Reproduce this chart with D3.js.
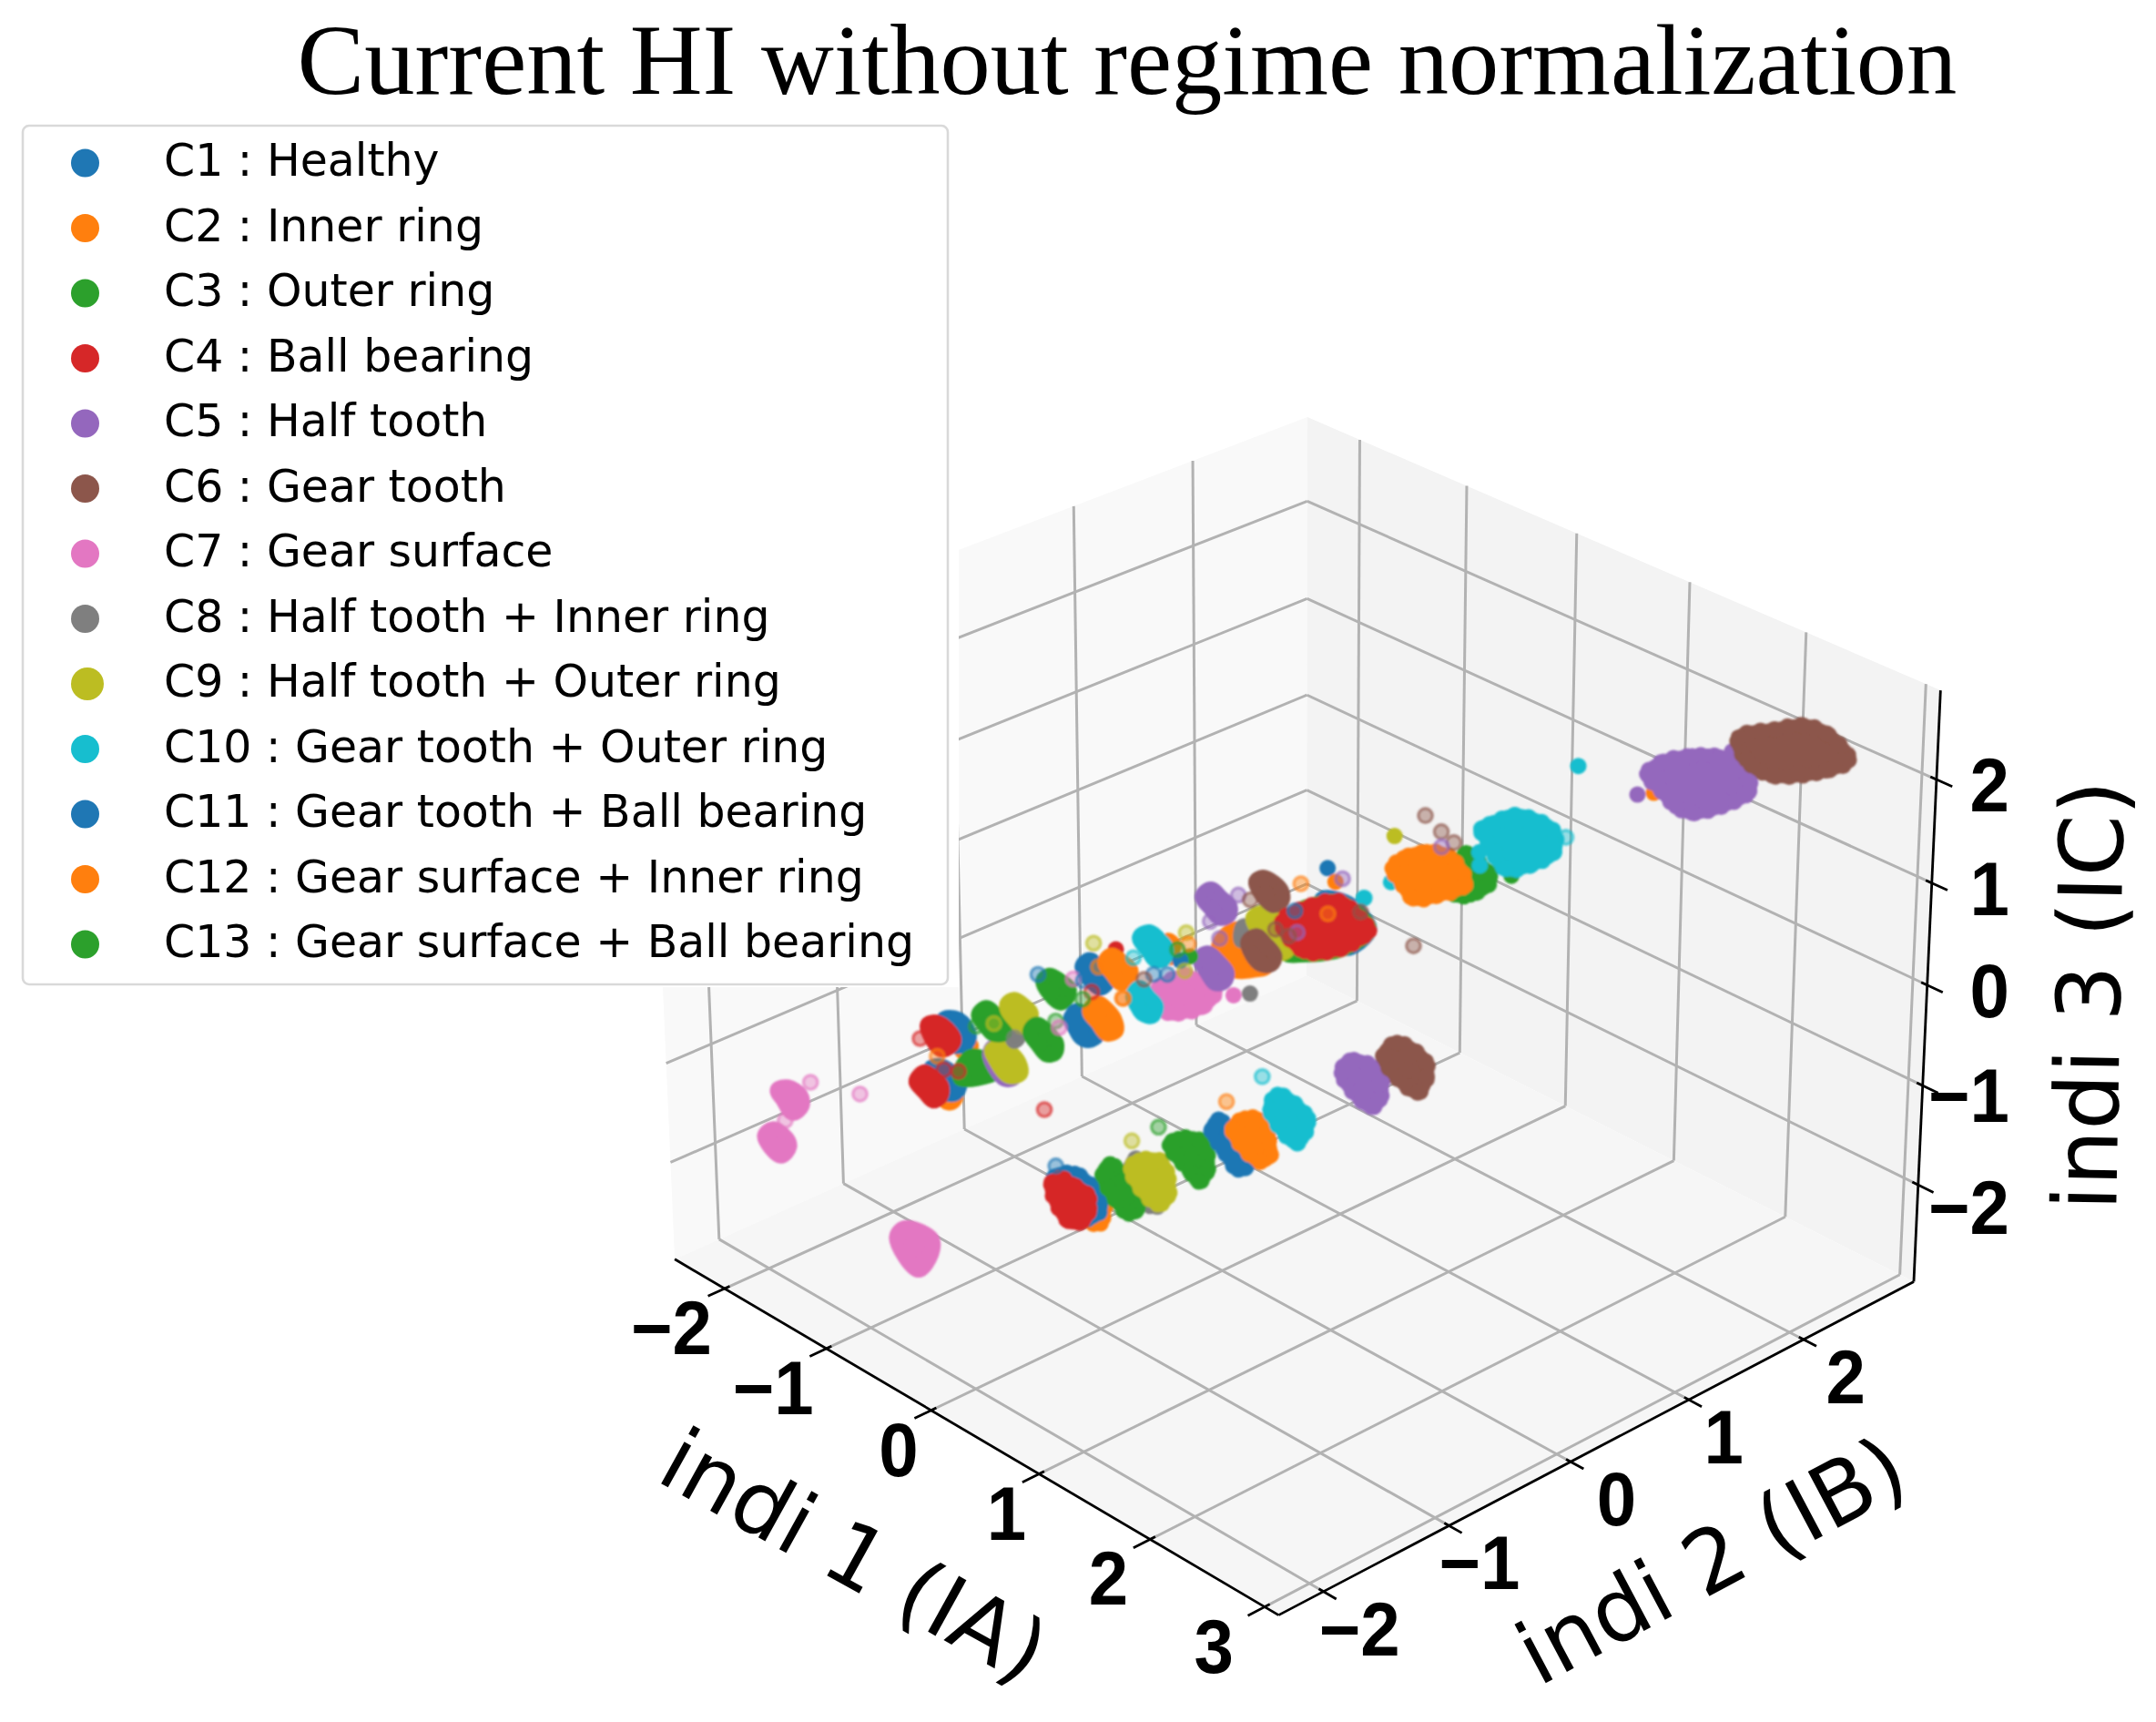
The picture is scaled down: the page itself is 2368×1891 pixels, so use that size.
<!DOCTYPE html><html><head><meta charset="utf-8"><style>html,body{margin:0;background:#fff}</style></head><body><div id="c"></div>
<script src="https://cdn.jsdelivr.net/npm/d3@7"></script>
<script>
const classNames=["C1 : Healthy","C2 : Inner ring","C3 : Outer ring","C4 : Ball bearing","C5 : Half tooth","C6 : Gear tooth","C7 : Gear surface","C8 : Half tooth + Inner ring","C9 : Half tooth + Outer ring","C10 : Gear tooth + Outer ring","C11 : Gear tooth + Ball bearing","C12 : Gear surface + Inner ring","C13 : Gear surface + Ball bearing"];
const classColors=["#1f77b4","#ff7f0e","#2ca02c","#d62728","#9467bd","#8c564b","#e377c2","#7f7f7f","#bcbd22","#17becf","#1f77b4","#ff7f0e","#2ca02c"];
const limitsIndi1=[-2.5,3.12], limitsIndi2=[-2.35,2.99], limitsIndi3=[-2.99,2.85];
const titleText="Current HI without regime normalization";
const axisLabels=["indi 1 (IA)","indi 2 (IB)","indi 3 (IC)"];
// class, indi 3 level and the (indi 1, indi 2) outline of each dense cluster, back to front
const blobClass=[6,6,6,1,0,3,1,0,3,2,4,8,7,2,8,2,2,0,1,0,1,6,9,1,9,1,4,7,4,0,2,8,5,3,5,1,0,3,7,2,8,2,0,1,9,4,5,2,1,9,4,5];
const blobIndi3=[-1.7,-1.7,-2.2,-1,-1.1,-1.1,-1.1,-1.1,-1.2,-1,-0.9,-0.9,-0.8,-0.9,-0.8,-0.7,-0.7,-0.6,-0.5,-0.6,-0.5,-0.2,-0.4,-0.3,-0.3,0,-0.1,0,-0.1,0.4,0.3,0.1,0.1,0.3,0.1,-1.7,-1.8,-1.8,-1.6,-1.7,-1.6,-1.5,-1.4,-1.4,-1.3,-1.1,-1,0.8,0.6,1,1.6,2];
const blobOutline=[
[[-2.45,-1.53],[-2.43,-1.47],[-2.30,-1.48],[-2.20,-1.55],[-2.17,-1.64],[-2.33,-1.58]],
[[-2.05,-1.95],[-2.08,-1.87],[-1.94,-1.88],[-1.85,-1.93],[-1.80,-2.03],[-1.92,-1.99]],
[[-0.99,-1.78],[-1.04,-1.68],[-0.83,-1.65],[-0.70,-1.76],[-0.61,-1.93],[-0.82,-1.83]],
[[-1.38,-0.87],[-1.36,-0.87],[-1.35,-0.89],[-1.35,-0.94]],
[[-1.83,-0.69],[-1.78,-0.63],[-1.64,-0.67],[-1.53,-0.75],[-1.51,-0.82],[-1.57,-0.85]],
[[-1.85,-0.80],[-1.83,-0.75],[-1.72,-0.76],[-1.60,-0.81],[-1.55,-0.88],[-1.56,-0.94],[-1.69,-0.88],[-1.78,-0.85]],
[[-1.02,-1.28],[-1.00,-1.32],[-1.00,-1.33],[-1.02,-1.34]],
[[-1.40,-1.15],[-1.38,-1.09],[-1.23,-1.13],[-1.15,-1.14],[-1.07,-1.24],[-1.13,-1.28],[-1.24,-1.27]],
[[-1.46,-1.21],[-1.49,-1.13],[-1.40,-1.14],[-1.29,-1.17],[-1.20,-1.25],[-1.19,-1.31],[-1.30,-1.28],[-1.43,-1.24]],
[[-1.22,-1.02],[-1.24,-0.95],[-1.10,-1.00],[-1.00,-0.97],[-1.03,-0.92],[-1.09,-0.95],[-1.14,-1.07],[-1.09,-1.17]],
[[-1.09,-0.93],[-1.14,-0.86],[-0.78,-1.01],[-0.80,-1.06],[-0.94,-0.99]],
[[-1.12,-0.89],[-1.11,-0.83],[-1.00,-0.84],[-0.89,-0.88],[-0.79,-0.95],[-0.81,-1.02],[-0.93,-0.97],[-1.05,-0.93]],
[[-1.09,-0.75],[-1.04,-0.76],[-1.03,-0.78],[-1.03,-0.79]],
[[-1.53,-0.65],[-1.56,-0.57],[-1.45,-0.59],[-1.31,-0.64],[-1.25,-0.70],[-1.29,-0.74],[-1.39,-0.71]],
[[-1.41,-0.52],[-1.42,-0.46],[-1.31,-0.47],[-1.22,-0.50],[-1.18,-0.57],[-1.13,-0.64],[-1.23,-0.61],[-1.34,-0.57]],
[[-0.94,-0.73],[-0.98,-0.65],[-0.86,-0.67],[-0.72,-0.72],[-0.64,-0.80],[-0.66,-0.84],[-0.78,-0.80]],
[[-1.38,-0.25],[-1.41,-0.18],[-1.32,-0.18],[-1.21,-0.20],[-1.13,-0.28],[-1.11,-0.35],[-1.24,-0.30]],
[[-0.79,-0.53],[-0.84,-0.44],[-0.75,-0.46],[-0.54,-0.54],[-0.52,-0.62],[-0.58,-0.63],[-0.69,-0.58]],
[[-0.69,-0.46],[-0.73,-0.37],[-0.61,-0.39],[-0.51,-0.43],[-0.40,-0.51],[-0.41,-0.57],[-0.54,-0.52]],
[[-1.26,-0.03],[-1.29,0.05],[-1.15,0.01],[-1.02,-0.04],[-0.98,-0.13],[-1.06,-0.12],[-1.16,-0.08]],
[[-1.10,0.02],[-1.14,0.10],[-1.03,0.09],[-0.92,0.06],[-0.85,-0.02],[-0.84,-0.08],[-0.96,-0.04]],
[[-0.32,-0.23],[-0.33,0.01],[-0.23,0.01],[-0.05,-0.01],[0.04,-0.19],[-0.00,-0.34],[-0.05,-0.39],[-0.23,-0.30]],
[[-0.55,-0.23],[-0.60,-0.14],[-0.47,-0.18],[-0.36,-0.22],[-0.29,-0.31],[-0.35,-0.33],[-0.44,-0.29]],
[[-0.84,0.31],[-0.79,0.30],[-0.72,0.23],[-0.68,0.19]],
[[-1.00,0.22],[-1.01,0.30],[-0.90,0.28],[-0.79,0.24],[-0.70,0.15],[-0.72,0.10],[-0.84,0.15]],
[[-0.27,0.23],[-0.36,0.39],[-0.35,0.46],[0.11,0.27],[0.10,0.20],[0.04,0.11],[-0.05,0.08]],
[[-0.33,0.13],[-0.35,0.20],[-0.22,0.17],[-0.09,0.12],[-0.02,0.04],[-0.04,-0.01],[-0.16,0.04]],
[[-0.29,0.43],[-0.36,0.51],[-0.33,0.50],[-0.24,0.39]],
[[-0.94,0.69],[-0.97,0.78],[-0.85,0.75],[-0.72,0.71],[-0.65,0.64],[-0.66,0.58],[-0.78,0.62]],
[[0.11,0.74],[0.26,0.81],[0.59,0.68],[0.66,0.42]],
[[0.05,0.51],[0.06,0.83],[0.14,0.88],[0.49,0.77],[0.56,0.49],[0.44,0.26],[0.36,0.21]],
[[-0.30,0.54],[-0.31,0.63],[-0.20,0.67],[0.09,0.49],[0.15,0.37],[-0.09,0.51]],
[[-0.65,0.88],[-0.66,0.94],[-0.56,0.94],[-0.45,0.90],[-0.36,0.82],[-0.36,0.75],[-0.50,0.82]],
[[0.05,0.46],[0.02,0.72],[0.10,0.89],[0.20,0.86],[0.35,0.83],[0.51,0.76],[0.54,0.66],[0.56,0.49],[0.43,0.30],[0.26,0.41]],
[[-0.09,0.31],[-0.11,0.39],[0.00,0.36],[0.15,0.30],[0.21,0.22],[0.17,0.18],[0.05,0.22]],
[[0.07,-1.01],[0.17,-1.12],[0.21,-1.17],[0.18,-1.20]],
[[-0.51,-0.92],[-0.45,-0.81],[-0.28,-0.83],[-0.14,-0.87],[0.01,-1.01],[0.01,-1.12],[-0.27,-1.04]],
[[-0.45,-1.00],[-0.48,-0.91],[-0.36,-0.91],[-0.21,-0.92],[-0.07,-1.02],[0.02,-1.15],[-0.04,-1.21],[-0.31,-1.07]],
[[-0.08,-0.68],[-0.14,-0.58],[0.39,-0.87],[0.33,-0.89]],
[[-0.23,-0.77],[-0.29,-0.66],[-0.09,-0.73],[0.13,-0.79],[0.23,-0.89],[0.24,-0.97],[0.02,-0.86]],
[[-0.07,-0.68],[-0.11,-0.58],[-0.02,-0.49],[0.11,-0.55],[0.34,-0.74],[0.37,-0.85],[0.20,-0.76]],
[[-0.03,-0.40],[-0.05,-0.31],[0.05,-0.23],[0.20,-0.30],[0.38,-0.46],[0.43,-0.57],[0.29,-0.52],[0.18,-0.41]],
[[0.10,-0.17],[0.04,-0.06],[0.30,-0.18],[0.57,-0.29],[0.58,-0.38],[0.41,-0.31],[0.33,-0.28]],
[[0.18,-0.07],[0.14,0.07],[0.24,0.13],[0.40,0.02],[0.59,-0.13],[0.60,-0.22],[0.39,-0.09]],
[[0.26,0.17],[0.15,0.33],[0.44,0.29],[0.54,0.23],[0.68,0.01],[0.54,0.07],[0.41,0.13]],
[[0.41,0.63],[0.33,0.77],[0.55,0.81],[0.68,0.69],[0.82,0.57],[0.85,0.47],[0.65,0.56]],
[[0.53,0.87],[0.46,1.05],[0.76,1.01],[0.90,0.89],[1.01,0.71],[0.76,0.86]],
[[0.71,1.33],[0.67,1.42],[0.99,1.32],[1.06,1.24],[1.08,1.07],[1.01,1.00]],
[[0.30,1.15],[0.25,1.29],[0.29,1.45],[0.42,1.51],[0.76,1.33],[0.75,1.09],[0.68,0.97],[0.48,1.06]],
[[0.69,1.53],[0.69,1.64],[0.70,1.80],[0.88,1.77],[1.01,1.83],[1.22,1.64],[1.25,1.42],[1.18,1.27],[0.97,1.38],[0.84,1.44]],
[[1.46,2.19],[1.41,2.38],[1.48,2.56],[1.61,2.67],[1.93,2.59],[2.06,2.47],[2.03,2.27],[2.02,2.02],[1.89,2.01],[1.67,2.10]],
[[1.89,2.54],[1.97,2.78],[2.05,2.94],[2.23,2.96],[2.57,2.80],[2.57,2.60],[2.47,2.46],[2.39,2.32],[2.13,2.36]]];
// stray samples: class, indi 1, indi 2, indi 3
const strayBehind=[[3,-1.19,0.18,-0.5],[1,1.57,2.14,1.5],[2,1.27,1.23,1],[9,0.33,1.11,0.5],[4,1.80,2.58,1.8]];
const strayPale=[[6,-2.29,-1.40,-1.6],[6,-2.12,-1.74,-1.7],[6,-1.76,-1.43,-1.4],[3,-1.85,-0.87,-1.2],[1,-1.50,-1.02,-1.1],[2,-1.53,-0.68,-1],[8,-1.38,-0.66,-0.9],[3,-1.34,-1.10,-1.1],[3,-1.26,-1.05,-1.1],[7,-1.05,-0.77,-0.8],[2,-0.94,-0.53,-0.7],[6,-0.86,-0.57,-0.7],[0,-1.58,-0.13,-0.8],[6,-1.18,-0.18,-0.6],[0,-1.12,-0.15,-0.6],[3,-0.97,-0.21,-0.6],[2,-0.94,-0.31,-0.6],[1,-0.68,-0.21,-0.5],[1,-1.09,-0.05,-0.5],[8,-1.45,0.22,-0.6],[9,-0.93,0.10,-0.4],[3,-1.29,-0.34,-1.9],[8,-0.42,-0.37,-1.7],[0,-0.70,-0.75,-1.9],[1,-0.34,0.97,0.2],[4,-0.11,1.11,0.3],[9,0.27,0.94,0.4],[1,0.17,0.73,0.3],[0,-0.10,0.70,0.2],[4,0.12,0.52,0.2],[5,-0.10,0.54,0.1],[5,0.12,0.45,0.2],[5,0.39,0.80,0.4],[4,-0.70,0.77,0],[5,-0.60,0.78,0],[4,-0.66,0.50,-0.1],[4,-0.45,0.39,-0.1],[8,-0.75,0.38,-0.2],[1,-0.63,0.29,-0.2],[2,-0.72,0.28,-0.3],[8,-0.38,0.04,-0.2],[0,-0.52,0.02,-0.3],[0,-0.58,-0.04,-0.3],[5,-0.67,-0.04,-0.4],[1,-0.67,-0.21,-0.5],[2,-0.34,-0.22,-1.6],[1,-0.10,0.13,-1.4],[9,-0.18,0.50,-1.4],[5,0.02,1.69,0.7],[5,0.25,1.61,0.7],[5,0.51,1.47,0.8],[4,0.40,1.47,0.7],[5,1.13,0.55,0.6],[9,1.33,1.63,1.2]];
const straySolid=[[0,-0.28,1.14,0.3],[1,-0.11,1.05,0.3],[2,-0.50,0.19,-0.2],[0,-0.50,0.11,-0.2],[6,0.16,-0.04,-0.1],[7,0.31,-0.04,0],[8,-0.11,1.55,0.5],[9,0.27,0.94,0.4],[9,0.69,2.36,1.2],[4,1.42,2.15,1.4],[9,0.81,1.40,0.9],[9,0.94,1.28,0.9],[1,0.97,1.13,0.8]];

const W=2368,H=1891;
// camera matrix of the 3D view
const cam=[[100.5409,154.0094,-10.08468,1340.983],[45.68795,-43.88494,-118.8964,1069.623],[-0.0143398,0.01471833,-0.007140062,1]];
const project=(a,b,c)=>{const w=cam[2][0]*a+cam[2][1]*b+cam[2][2]*c+1;
  return[(cam[0][0]*a+cam[0][1]*b+cam[0][2]*c+cam[0][3])/w,(cam[1][0]*a+cam[1][1]*b+cam[1][2]*c+cam[1][3])/w];};
const colour=d3.scaleOrdinal(d3.range(13),classColors);
const [xn,xm]=limitsIndi1,[yn,ym]=limitsIndi2,[zn,zm]=limitsIndi3;
const xTicks=d3.scaleLinear().domain(limitsIndi1).ticks(5),yTicks=d3.scaleLinear().domain(limitsIndi2).ticks(5),zTicks=d3.scaleLinear().domain(limitsIndi3).ticks(5);
const svg=d3.select("#c").append("svg").attr("width",W).attr("height",H).style("display","block").style("background","#fff");
const line=d3.line();
const round=d3.line().curve(d3.curveCatmullRomClosed.alpha(0.5));
const defs=svg.append("defs");
defs.append("filter").attr("id","soft").attr("x","-5%").attr("y","-5%").attr("width","110%").attr("height","110%").append("feGaussianBlur").attr("stdDeviation",0.9);
// panes
const pane=(pts,fill)=>svg.append("path").attr("d",line(pts.map(p=>project(...p)))+"Z").attr("fill",fill);
pane([[xn,yn,zn],[xn,ym,zn],[xn,ym,zm],[xn,yn,zm]],"#f9f9f9");
pane([[xn,ym,zn],[xm,ym,zn],[xm,ym,zm],[xn,ym,zm]],"#f3f3f3");
pane([[xn,yn,zn],[xm,yn,zn],[xm,ym,zn],[xn,ym,zn]],"#f6f6f6");
// grid
const grid=svg.append("g").attr("fill","none").attr("stroke","#b2b2b2").attr("stroke-width",3);
const seg=(g,a,b)=>g.append("path").attr("d",line([project(...a),project(...b)]));
xTicks.forEach(t=>{seg(grid,[t,yn,zn],[t,ym,zn]);seg(grid,[t,ym,zn],[t,ym,zm]);});
yTicks.forEach(t=>{seg(grid,[xn,t,zn],[xm,t,zn]);seg(grid,[xn,t,zn],[xn,t,zm]);});
zTicks.forEach(t=>{seg(grid,[xn,yn,t],[xn,ym,t]);seg(grid,[xn,ym,t],[xm,ym,t]);});
// axes and ticks
const ax=svg.append("g").attr("fill","none").attr("stroke","#000").attr("stroke-width",2.8);
seg(ax,[xn,yn,zn],[xm,yn,zn]);seg(ax,[xm,yn,zn],[xm,ym,zn]);seg(ax,[xm,ym,zn],[xm,ym,zm]);
xTicks.forEach(t=>seg(ax,[t,yn-0.13,zn],[t,yn+0.04,zn]));
yTicks.forEach(t=>seg(ax,[xm+0.11,t,zn],[xm-0.04,t,zn]));
zTicks.forEach(t=>seg(ax,[xm-0.05,ym,t],[xm+0.13,ym,t]));
// data
const plot=svg.append("g").attr("filter","url(#soft)");
const dot=(g,d,op,ring)=>{const q=project(d[1],d[2],d[3]);const c=colour(d[0]);
  g.append("circle").attr("cx",q[0]).attr("cy",q[1]).attr("r",ring?7.8:9).attr("fill",c).attr("fill-opacity",op).attr("stroke",c).attr("stroke-opacity",ring?0.62:1).attr("stroke-width",ring?3.4:0);};
strayBehind.forEach(d=>dot(plot,d,1,false));
blobOutline.forEach((o,i)=>{
  const pts=o.map(p=>project(p[0],p[1],blobIndi3[i]));
  const hull=d3.polygonHull(pts)||pts;const c=colour(blobClass[i]);
  const grainy=i>=35||i==33||i==21;
  plot.append("path").attr("d",round(hull)).attr("fill",c).attr("stroke",c).attr("stroke-width",grainy?15:19).attr("stroke-linejoin","round");
  if(grainy)plot.append("path").attr("d",round(hull)).attr("fill","none").attr("stroke",c).attr("stroke-width",19).attr("stroke-linecap","round").attr("stroke-dasharray","0 15");
  pts.forEach(q=>plot.append("circle").attr("cx",q[0]).attr("cy",q[1]).attr("r",9).attr("fill",c));
});
straySolid.forEach(d=>dot(plot,d,1,false));
strayPale.forEach(d=>dot(plot,d,0.42,true));
// white block behind the legend hides the left of the pane
svg.append("rect").attr("x",0).attr("y",0).attr("width",1053).attr("height",1084).attr("fill","#fff");
// legend
svg.append("rect").attr("x",25).attr("y",138).attr("width",1016).attr("height",943).attr("rx",7).attr("fill","#fff").attr("stroke","#d9d9d9").attr("stroke-width",2.6);
const legendRow=d3.scaleLinear().domain([0,12]).range([176,1034]);
classNames.forEach((n,i)=>{
  svg.append("circle").attr("cx",i==8?96:93.5).attr("cy",legendRow(i)+3).attr("r",i==8?18:15.5).attr("fill",classColors[i]);
  svg.append("text").attr("x",180).attr("y",legendRow(i)+17).attr("font-family","DejaVu Sans").attr("font-size",48.95).attr("fill","#000").text(n);
});
// tick labels
const tl=(t,x,y)=>svg.append("text").attr("transform",`translate(${x},${y}) scale(1,1.06)`).attr("text-anchor","end").attr("font-family","Liberation Sans").attr("font-weight","bold").attr("font-size",78).attr("fill","#000").text(String(t).replace("-","\u2212"));
xTicks.forEach(t=>{const q=project(t,yn,zn);tl(t,q[0]-14-10*Math.max(0,t-1),q[1]+72);});
yTicks.forEach(t=>{const q=project(xm,t,zn);tl(t,q[0]+72-6*t+(t==1?-6:t==2?8:0),q[1]+70);});
zTicks.forEach(t=>{const q=project(xm,ym,t);tl(t,2207,q[1]+(t==-2?54:t==-1?40:35));});
// axis labels
const al=(s,x,y,r,size)=>svg.append("text").attr("transform",`translate(${x},${y}) rotate(${r})`).attr("text-anchor","middle").attr("dominant-baseline","central").attr("font-family","DejaVu Sans").attr("font-size",size).attr("fill","#000").text(s);
al(axisLabels[0],938,1709,29,96);
al(axisLabels[1],1880,1714,-28,96);
al(axisLabels[2],2295,1093,-89,97);
svg.append("text").attr("x",1238).attr("y",103).attr("text-anchor","middle").attr("font-family","Liberation Serif").attr("font-size",110.5).attr("fill","#000").text(titleText);
</script></body></html>
